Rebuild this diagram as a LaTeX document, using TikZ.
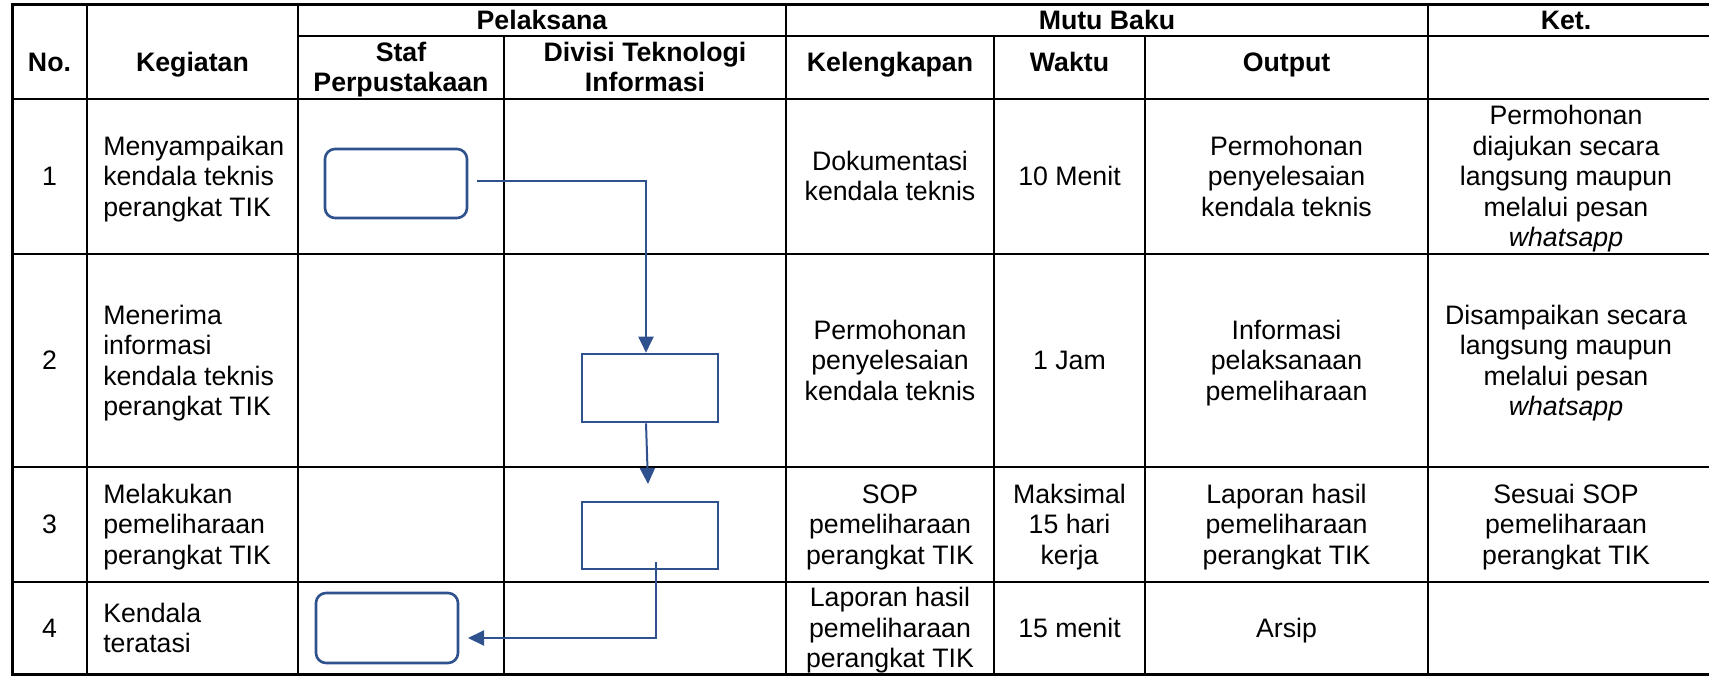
\documentclass[tikz,border=0pt]{standalone}
\usepackage{fontspec}
\setmainfont{Liberation Sans}
\usetikzlibrary{arrows.meta}
\definecolor{flowblue}{RGB}{47,82,143}

\tikzset{every picture/.style={line width=2.6pt}}
\tikzset{
  cell/.style={anchor=base, inner sep=0pt, align=center, font=\fontsize{26.7}{30.5}\selectfont},
  hcell/.style={cell, font=\fontsize{26.7}{30.5}\selectfont\bfseries},
  lcell/.style={cell, anchor=base west, align=left},
  termbox/.style={draw=flowblue, line width=2.6pt, rounded corners=10pt, minimum width=142pt, minimum height=69pt, inner sep=0pt},
  procbox/.style={draw=flowblue, line width=2.6pt, minimum width=136pt, minimum height=68pt, inner sep=0pt},
  flowline/.style={draw=flowblue, line width=2pt, -{Triangle[length=16pt,width=15pt]}},
}

\begin{document}
\begin{tikzpicture}[x=1pt,y=1pt,yscale=-1,xscale=1]
\useasboundingbox (0,0) rectangle (1709,676);

%Shape: Rectangle (table frame)
\draw [line width=3pt] (12,5) -- (1710,5) -- (1710,674) -- (12,674) -- cycle ;
%Straight Lines (rows)
\draw    (298,36) -- (1710,36) ;
\draw    (12,99) -- (1710,99) ;
\draw    (12,254) -- (1710,254) ;
\draw    (12,467) -- (1710,467) ;
\draw    (12,582) -- (1710,582) ;
%Straight Lines (columns)
\draw    (87,5) -- (87,674) ;
\draw    (298,5) -- (298,674) ;
\draw    (504,36) -- (504,674) ;
\draw    (786,5) -- (786,674) ;
\draw    (994,36) -- (994,674) ;
\draw    (1145,36) -- (1145,674) ;
\draw    (1428,5) -- (1428,674) ;

% Header (anchor = baseline of the last line)
\draw (49.5,71.5) node (hno) [hcell] {No.};
\draw (192.5,71.5) node (hkeg) [hcell] {Kegiatan};
\draw (542,30) node (hpel) [hcell] {Pelaksana};
\draw (401,92) node (hstaf) [hcell] {Staf\\Perpustakaan};
\draw (645,92) node (hdiv) [hcell] {Divisi Teknologi\\Informasi};
\draw (1107,30) node (hmutu) [hcell] {Mutu Baku};
\draw (890,72) node (hkel) [hcell] {Kelengkapan};
\draw (1069.5,72) node (hwak) [hcell] {Waktu};
\draw (1286.5,72) node (hout) [hcell] {Output};
\draw (1566,30) node (hket) [hcell] {Ket.};

% Text Node (No.)
\draw (49.5,185.75) node (no1) [cell] {1};
\draw (49.5,369.75) node (no2) [cell] {2};
\draw (49.5,533.75) node (no3) [cell] {3};
\draw (49.5,637.25) node (no4) [cell] {4};
% Text Node (Kegiatan)
\draw (102,216.25) node (keg1) [lcell] {Menyampaikan\\kendala teknis\\perangkat TIK};
\draw (102,415.5) node (keg2) [lcell] {Menerima\\informasi\\kendala teknis\\perangkat TIK};
\draw (102,564.25) node (keg3) [lcell] {Melakukan\\pemeliharaan\\perangkat TIK};
\draw (102,652.5) node (keg4) [lcell] {Kendala\\teratasi};
% Text Node (Kelengkapan)
\draw (890,201) node (kel1) [cell] {Dokumentasi\\kendala teknis};
\draw (890,400.25) node (kel2) [cell] {Permohonan\\penyelesaian\\kendala teknis};
\draw (890,564.25) node (kel3) [cell] {SOP\\pemeliharaan\\perangkat TIK};
\draw (890,667.75) node (kel4) [cell] {Laporan hasil\\pemeliharaan\\perangkat TIK};
% Text Node (Waktu)
\draw (1069.5,185.75) node (wak1) [cell] {10 Menit};
\draw (1069.5,369.75) node (wak2) [cell] {1 Jam};
\draw (1069.5,564.25) node (wak3) [cell] {Maksimal\\15 hari\\kerja};
\draw (1069.5,637.25) node (wak4) [cell] {15 menit};
% Text Node (Output)
\draw (1286.5,216.25) node (out1) [cell] {Permohonan\\penyelesaian\\kendala teknis};
\draw (1286.5,400.25) node (out2) [cell] {Informasi\\pelaksanaan\\pemeliharaan};
\draw (1286.5,564.25) node (out3) [cell] {Laporan hasil\\pemeliharaan\\perangkat TIK};
\draw (1286.5,637.25) node (out4) [cell] {Arsip};
% Text Node (Ket.)
\draw (1566,246.75) node (ket1) [cell] {Permohonan\\diajukan secara\\langsung maupun\\melalui pesan\\\textit{whatsapp}};
\draw (1566,415.5) node (ket2) [cell] {Disampaikan secara\\langsung maupun\\melalui pesan\\\textit{whatsapp}};
\draw (1566,564.25) node (ket3) [cell] {Sesuai SOP\\pemeliharaan\\perangkat TIK};

%Shape: Rounded Rect / Rectangle
\node (start1) [termbox] at (396,183.5) {};
\node (proc2) [procbox] at (650,388) {};
\node (proc3) [procbox, minimum height=67pt] at (650,535.5) {};
\node (end4) [termbox, minimum height=70pt] at (387,628) {};

%Connectors
\coordinate (tail1) at (477,181);
\draw [flowline] (tail1) -| ([xshift=-4pt]proc2.north) ;
\coordinate (tip2) at (648,484);
\draw [flowline] ([xshift=-4pt]proc2.south) -- (tip2) ;
\coordinate (tail3) at (656,562);
\coordinate (tip3) at (468,638);
\draw [flowline] (tail3) |- (tip3) ;

\end{tikzpicture}
\end{document}
